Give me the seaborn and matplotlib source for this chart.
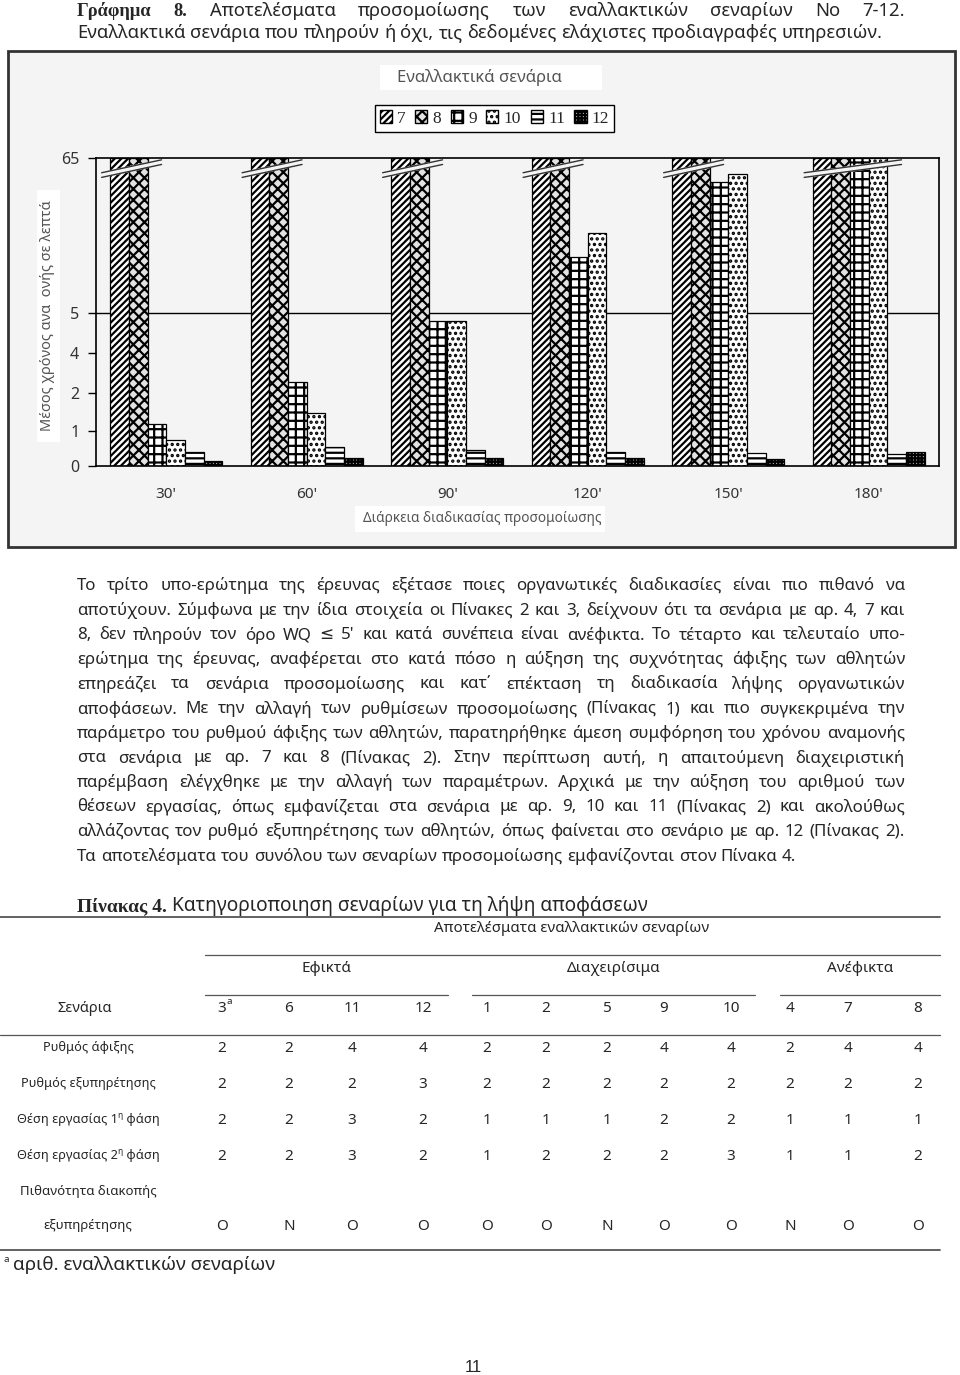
import numpy as np
import pandas as pd
import matplotlib
matplotlib.use('Agg')
import matplotlib.pyplot as plt
import seaborn as sns
from matplotlib.patches import Rectangle, Patch
from matplotlib.lines import Line2D

# ---- chart data (minutes; bars above 65 are cut by the axis break) ----
durations = ["30'", "60'", "90'", "120'", "150'", "180'"]
scenario_names = ['7', '8', '9', '10', '11', '12']
scen_7 = [80, 80, 80, 80, 80, 80]
scen_8 = [80, 80, 80, 80, 80, 80]
scen_9 = [1.18, 2.52, 4.8, 26.9, 55.7, 80]
scen_10 = [0.74, 1.47, 4.8, 36.1, 58.8, 80]
scen_11 = [0.39, 0.55, 0.45, 0.39, 0.36, 0.33]
scen_12 = [0.14, 0.24, 0.24, 0.24, 0.19, 0.39]
y_ticks = [0, 1, 2, 4, 5, 65]

# ---- table data ----
tbl_groups = ['Εφικτά', 'Διαχειρίσιμα', 'Ανέφικτα']
tbl_scenarios = ['3', '6', '11', '12', '1', '2', '5', '9', '10', '4', '7', '8']
arrival_rate = [2, 2, 4, 4, 2, 2, 2, 4, 4, 2, 4, 4]
service_rate = [2, 2, 2, 3, 2, 2, 2, 2, 2, 2, 2, 2]
workstations_1 = [2, 2, 3, 2, 1, 1, 1, 2, 2, 1, 1, 1]
workstations_2 = [2, 2, 3, 2, 1, 2, 2, 2, 3, 1, 1, 2]
interruption = ['O', 'N', 'O', 'O', 'O', 'O', 'N', 'O', 'O', 'N', 'O', 'O']

header_lines = [
    'Γράφημα 8. Αποτελέσματα προσομοίωσης των εναλλακτικών σεναρίων Νο 7-12.',
    'Εναλλακτικά σενάρια  που πληρούν ή όχι, τις δεδομένες ελάχιστες προδιαγραφές υπηρεσιών.',
]
body_lines = [
    'Το τρίτο υπο-ερώτημα της έρευνας εξέτασε ποιες οργανωτικές διαδικασίες είναι πιο πιθανό να',
    'αποτύχουν. Σύμφωνα με την ίδια στοιχεία οι Πίνακες 2 και 3, δείχνουν ότι τα σενάρια με αρ. 4, 7 και',
    "8, δεν πληρούν τον όρο WQ ≤ 5' και κατά συνέπεια είναι ανέφικτα. Το τέταρτο και τελευταίο υπο-",
    'ερώτημα της έρευνας, αναφέρεται στο κατά πόσο η αύξηση της συχνότητας άφιξης των αθλητών',
    'επηρεάζει τα σενάρια προσομοίωσης και κατ΄ επέκταση τη διαδικασία λήψης οργανωτικών',
    'αποφάσεων. Με την αλλαγή των ρυθμίσεων προσομοίωσης (Πίνακας 1) και πιο συγκεκριμένα την',
    'παράμετρο του ρυθμού άφιξης των αθλητών, παρατηρήθηκε άμεση συμφόρηση του χρόνου αναμονής',
    'στα σενάρια με αρ. 7 και 8 (Πίνακας 2). Στην περίπτωση αυτή, η απαιτούμενη διαχειριστική',
    'παρέμβαση ελέγχθηκε με την αλλαγή των παραμέτρων. Αρχικά με την αύξηση του αριθμού των',
    'θέσεων εργασίας, όπως εμφανίζεται στα σενάρια με αρ. 9, 10 και 11 (Πίνακας 2) και ακολούθως',
    'αλλάζοντας τον ρυθμό εξυπηρέτησης των αθλητών, όπως φαίνεται στο σενάριο με αρ. 12 (Πίνακας 2).',
    'Τα αποτελέσματα του συνόλου των σεναρίων προσομοίωσης εμφανίζονται στον Πίνακα 4.',
]

W, H = 960, 1375
sns.set_style('white')
plt.rcParams['font.family'] = ['Noto Sans', 'DejaVu Sans']
plt.rcParams['hatch.linewidth'] = 1.6

fig = plt.figure(figsize=(W / 100, H / 100), dpi=100)
renderer = fig.canvas.get_renderer()
BOLD = dict(family=['Liberation Serif', 'DejaVu Serif'], fontweight='bold')


def fx(x):
    return x / W


def fy(y):
    return 1 - y / H


def put(x, y, s, **kw):
    return fig.text(fx(x), fy(y), s, **kw)


def text_w(s, **kw):
    t = fig.text(0, 0, s, **kw)
    w = t.get_window_extent(renderer).width
    t.remove()
    return w


def box(x0, y0, x1, y1, **kw):
    fig.patches.append(Rectangle((fx(x0), fy(y1)), (x1 - x0) / W, (y1 - y0) / H,
                                 transform=fig.transFigure, zorder=-1, **kw))


def hline(y, x0, x1, lw=1.0, color='#555555'):
    fig.add_artist(Line2D([fx(x0), fx(x1)], [fy(y), fy(y)], lw=lw, color=color))


def justify(line, y, x0, x1, size, bold=0, last=False):
    words = line.split()
    kws = []
    for i in range(len(words)):
        k = dict(fontsize=size)
        if i < bold:
            k.update(BOLD)
        kws.append(k)
    widths = [text_w(w, **k) for w, k in zip(words, kws)]
    if last:
        gap = text_w('a a', fontsize=size) - text_w('aa', fontsize=size)
    else:
        gap = (x1 - x0 - sum(widths)) / (len(words) - 1)
    x = x0
    for w, wd, k in zip(words, widths, kws):
        put(x, y, w, ha='left', va='center', **k)
        x += wd + gap


# ---- page header ----
justify(header_lines[0], 11, 77, 905, 13.3, bold=2)
justify(header_lines[1], 33, 77, 905, 13.3, last=True)

# ---- chart frame ----
bg = '#f4f4f4'
box(8, 51, 955, 547, facecolor=bg, edgecolor='#333333', lw=2)
box(380, 65, 602, 90, facecolor='white', edgecolor='none')
box(37, 190, 60, 442, facecolor='white', edgecolor='none')
box(355, 506, 605, 532, facecolor='white', edgecolor='none')

ax = fig.add_axes([fx(96), fy(466), (939 - 96) / W, (466 - 158) / H])
ax.set_facecolor(bg)
ax.set_zorder(1)

values = {'7': scen_7, '8': scen_8, '9': scen_9, '10': scen_10, '11': scen_11, '12': scen_12}
rows = [(d, s, v) for s, vals in values.items() for d, v in zip(durations, vals)]
df = pd.DataFrame(rows, columns=['duration', 'scenario', 'minutes'])

face_colors = {'7': 'white', '8': '#e2e2e2', '9': 'white', '10': 'white', '11': 'white', '12': '#c8c8c8'}
hatches = ['/////', 'xxx', '++', '...', '---', '+++++']
hatch_colors = ['black', '#555555', 'black', 'black', 'black', '#444444']
can_hatchcolor = hasattr(matplotlib.patches.Patch, 'set_hatchcolor')

sns.barplot(data=df, x='duration', y='minutes', hue='scenario', order=durations,
            hue_order=scenario_names, palette=face_colors, saturation=1, width=0.8,
            edgecolor='black', linewidth=0.9, errorbar=None, legend=False, ax=ax)
for cont, h, hc in zip(ax.containers, hatches, hatch_colors):
    for p in cont:
        p.set_hatch(h)
        if can_hatchcolor:
            p.set_hatchcolor(hc)

# uneven value axis as in the original (0,1,2,4,5 then a break up to 65)
tick_pos = [0, 35.3, 73.3, 113.3, 152.7, 307.7]
ax.set_yscale('function', functions=(lambda v: np.interp(v, y_ticks, tick_pos),
                                     lambda p: np.interp(p, tick_pos, y_ticks)))
ax.set_ylim(0, 65)
ax.set_xlim(-0.5, 5.5)
ax.set_yticks(y_ticks)
ax.set_yticklabels([str(t) for t in y_ticks])
ax.yaxis.set_minor_locator(matplotlib.ticker.NullLocator())
ax.axhline(5, color='black', lw=1, zorder=0.5)

ax.set_xticks(range(len(durations)))
ax.set_xticklabels(durations)
ax.set_xticks(np.arange(-0.5, len(durations)), minor=True)
ax.tick_params(axis='x', which='major', length=0, pad=15, labelsize=11, labelcolor='#333333')
ax.tick_params(axis='x', which='minor', length=5, width=1, direction='out', color='black')
ax.tick_params(axis='y', which='major', length=6, width=1, direction='out', color='black',
               pad=6, labelsize=11.5, labelcolor='#333333', left=True)
for sp in ax.spines.values():
    sp.set_visible(True)
    sp.set_color('black')
    sp.set_linewidth(1.2)
ax.set_xlabel('')
ax.set_ylabel('')

# break marks over the cut bars
for g in range(len(durations)):
    cut = [cont[g] for cont in ax.containers if cont[g].get_height() > 65]
    if not cut:
        continue
    x0 = min(p.get_x() for p in cut) - 0.06
    x1 = max(p.get_x() + p.get_width() for p in cut) + 0.1
    ya, yb, d = 57.5, 62.5, 1.8
    ax.fill([x0, x1, x1, x0], [ya, yb, yb + d, ya + d], color=bg, zorder=5, clip_on=False)
    ax.plot([x0, x1], [ya, yb], color='#333333', lw=1, zorder=6, clip_on=False)
    ax.plot([x0, x1], [ya + d, yb + d], color='#333333', lw=1, zorder=6, clip_on=False)

put(479, 77, 'Εναλλακτικά σενάρια', ha='center', va='center', fontsize=12, color='#555555')
put(48, 316, 'Μέσος χρόνος ανα  ονής σε λεπτά', ha='center', va='center', rotation=90,
    fontsize=10.5, color='#555555')
put(482, 519, 'Διάρκεια διαδικασίας προσομοίωσης', ha='center', va='center', fontsize=9.8,
    color='#555555')

handles = []
for s, h, hc in zip(scenario_names, hatches, hatch_colors):
    hp = Patch(facecolor=face_colors[s], edgecolor='black', hatch=h, label=s)
    if can_hatchcolor:
        hp.set_hatchcolor(hc)
    handles.append(hp)
ax.legend(handles=handles, loc='center', bbox_to_anchor=(fx(494.5), fy(118.5)),
          bbox_transform=fig.transFigure, ncol=6, frameon=True, fancybox=False,
          edgecolor='black', framealpha=1, prop={'family': 'Liberation Serif', 'size': 12.5},
          handlelength=0.7, handleheight=0.7, handletextpad=0.3, columnspacing=0.55,
          borderpad=0.3)

# ---- body paragraph ----
for i, line in enumerate(body_lines):
    justify(line, 586 + i * 24.6, 77, 905, 12.2, last=(i == len(body_lines) - 1))

# ---- table 4 ----
put(77, 906, 'Πίνακας 4.', ha='left', va='center', fontsize=14, **BOLD)
put(77 + text_w('Πίνακας 4. ', fontsize=14, **BOLD), 906,
    'Κατηγοριοποιηση σεναρίων για τη λήψη αποφάσεων', ha='left', va='center', fontsize=13.8)
hline(917, 0, 940, lw=1.3)
put(572, 928, 'Αποτελέσματα εναλλακτικών σεναρίων', ha='center', va='center', fontsize=10.8)
hline(955, 205, 940, lw=0.9)

col_x = [222, 289, 352, 423, 487, 546, 607, 664, 731, 790, 848, 918]
spans = [(205, 448), (472, 755), (780, 940)]
for name, (a, b) in zip(tbl_groups, spans):
    put((a + b) / 2, 968, name, ha='center', va='center', fontsize=11)
    hline(995, a, b, lw=0.9)

label_x = 88
cell = dict(ha='center', va='center', fontsize=11)
put(85, 1009, 'Σενάρια', ha='center', va='center', fontsize=10.5)
for x, s in zip(col_x, tbl_scenarios):
    put(x, 1009, s, **cell)
put(col_x[0] + 7, 1002, 'a', ha='center', va='center', fontsize=7)
hline(1035, 0, 940, lw=0.9)

table_rows = [
    ('Ρυθμός άφιξης', arrival_rate, 1048),
    ('Ρυθμός εξυπηρέτησης', service_rate, 1084),
    ('Θέση εργασίας 1', workstations_1, 1120),
    ('Θέση εργασίας 2', workstations_2, 1156),
]
for label, vals, y in table_rows:
    if label.startswith('Θέση'):
        kw = dict(fontsize=9.2)
        w1 = text_w(label, **kw)
        w2 = text_w('η', fontsize=6)
        w3 = text_w(' φάση', **kw)
        x = label_x - (w1 + w2 + w3) / 2
        put(x, y, label, ha='left', va='center', **kw)
        put(x + w1, y - 4, 'η', ha='left', va='center', fontsize=6)
        put(x + w1 + w2, y, ' φάση', ha='left', va='center', **kw)
    else:
        put(label_x, y, label, ha='center', va='center', fontsize=9.2)
    for x, v in zip(col_x, vals):
        put(x, y, str(v), **cell)

put(label_x, 1192, 'Πιθανότητα διακοπής', ha='center', va='center', fontsize=9.5)
put(label_x, 1226, 'εξυπηρέτησης', ha='center', va='center', fontsize=9.5)
for x, v in zip(col_x, interruption):
    put(x, 1226, v, **cell)
hline(1250, 0, 940, lw=1.3)

put(4, 1259, 'a', ha='left', va='center', fontsize=7)
put(13, 1265, 'αριθ. εναλλακτικών σεναρίων', ha='left', va='center', fontsize=13.6)
put(473, 1367, '11', ha='center', va='center', fontsize=12, family='Liberation Sans')

fig.savefig('out.png', dpi=100, facecolor='white')
